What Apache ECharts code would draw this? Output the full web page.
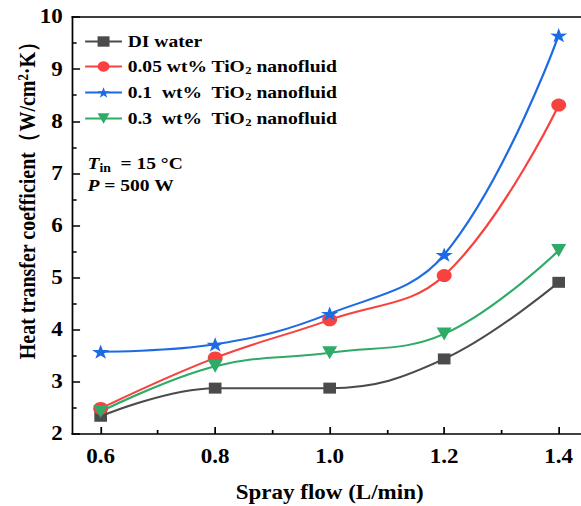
<!DOCTYPE html>
<html>
<head>
<meta charset="utf-8">
<script src="https://cdn.jsdelivr.net/npm/echarts@6/dist/echarts.min.js"></script>
<style>
  html, body { margin: 0; padding: 0; background: #fff; overflow: hidden; }
  /* the figure is laid out at 505 px wide and widened to fill the 581 px page */
  #chart { width: 505px; height: 506px; transform: scaleX(1.1505); transform-origin: 0 0; }
</style>
</head>
<body>
<div id="chart"></div>
<script>
// Spray flow rates (L/min)
const sprayFlow = [0.6, 0.8, 1.0, 1.2, 1.4];
// Heat transfer coefficient (W/cm²·K) per fluid
const diWater   = [2.34, 2.88, 2.88, 3.44, 4.91];
const tio2_005  = [2.49, 3.46, 4.19, 5.04, 8.31];
const tio2_01   = [3.58, 3.72, 4.31, 5.44, 9.65];
const tio2_03   = [2.43, 3.30, 3.56, 3.92, 5.52];
const xMajorTicks = [0.6, 0.8, 1.0, 1.2, 1.4];
const xMinorTicks = [0.7, 0.9, 1.1, 1.3];

const seriesNames = [
  'DI water',
  '0.05 wt% TiO{sub|2} nanofluid',
  '0.1  wt%  TiO{sub|2} nanofluid',
  '0.3  wt%  TiO{sub|2} nanofluid'
];
const colors = ['#4b4b4b', '#f8423f', '#1d6be3', '#2eab66'];
const starPath = 'path://M50,0 L61.8,35.1 L97.6,34.5 L68.8,56.7 L79.4,90.5 L50,70 L20.6,90.5 L31.2,56.7 L2.4,34.5 L38.2,35.1 Z';

const serif = '"Liberation Serif", "Times New Roman", serif';
const pair = arr => sprayFlow.map((x, i) => [x, arr[i]]);

function lineSeries(name, data, color, symbol, size, extra) {
  return Object.assign({
    name: name,
    type: 'line',
    data: pair(data),
    smooth: 0.4,
    symbol: symbol,
    symbolSize: size,
    symbolKeepAspect: true,
    lineStyle: { color: color, width: 2 },
    itemStyle: { color: color },
    xAxisIndex: 0,
    yAxisIndex: 0
  }, extra || {});
}

const chart = echarts.init(document.getElementById('chart'), null, { renderer: 'svg' });

const axisCommon = {
  axisLine: { show: true, lineStyle: { color: '#000', width: 1.5 } },
  splitLine: { show: false }
};

chart.setOption({
  animation: false,
  backgroundColor: '#fff',
  grid: { left: 62.6, top: 17, right: -5.5, bottom: 72, outerBoundsMode: 'none', containLabel: false },
  legend: {
    left: 68,
    top: 28,
    orient: 'vertical',
    itemGap: 8,
    itemWidth: 32,
    itemHeight: 13,
    data: seriesNames,
    textStyle: {
      fontFamily: serif, fontWeight: 'bold', fontSize: 17, color: '#000',
      rich: {
        sub: { fontFamily: serif, fontWeight: 'bold', fontSize: 11, color: '#000', verticalAlign: 'bottom', padding: [8, 0, 0, 0] }
      }
    }
  },
  xAxis: [
    Object.assign({}, axisCommon, {
      type: 'value',
      position: 'bottom',
      min: 0.55,
      max: 1.45,
      name: 'Spray flow (L/min)',
      nameLocation: 'middle',
      nameGap: 49,
      nameTextStyle: { fontFamily: serif, fontWeight: 'bold', fontSize: 20, color: '#000' },
      axisTick: { show: true, inside: true, length: 7, customValues: xMajorTicks, lineStyle: { color: '#000', width: 1.5 } },
      axisLabel: {
        customValues: xMajorTicks,
        margin: 13,
        fontFamily: serif, fontWeight: 'bold', fontSize: 20, color: '#000',
        formatter: v => v.toFixed(1)
      }
    }),
    Object.assign({}, axisCommon, {
      type: 'value',
      position: 'bottom',
      min: 0.55,
      max: 1.45,
      axisLine: { show: false },
      axisTick: { show: true, inside: true, length: 4, customValues: xMinorTicks, lineStyle: { color: '#000', width: 1.5 } },
      axisLabel: { show: false, customValues: xMinorTicks }
    }),
    Object.assign({}, axisCommon, {
      type: 'value',
      position: 'top',
      min: 0.55,
      max: 1.45,
      axisTick: { show: false },
      axisLabel: { show: false }
    })
  ],
  yAxis: [
    Object.assign({}, axisCommon, {
      type: 'value',
      min: 2,
      max: 10,
      interval: 1,
      name: 'Heat transfer coefficient（W/cm{sup|2}·K）',
      nameLocation: 'middle',
      nameGap: 28,
      nameMoveOverlap: false,
      nameTextStyle: {
        fontFamily: serif, fontWeight: 'bold', fontSize: 20, color: '#000',
        padding: [0, 0, 0, 60],
        rich: {
          sup: { fontFamily: serif, fontWeight: 'bold', fontSize: 13, color: '#000', verticalAlign: 'top', padding: [0, 0, 8, 0] }
        }
      },
      axisTick: { show: true, inside: true, length: 7, lineStyle: { color: '#000', width: 1.5 } },
      minorTick: { show: true, splitNumber: 2, length: 4, lineStyle: { color: '#000', width: 1.5 } },
      axisLabel: { margin: 8, fontFamily: serif, fontWeight: 'bold', fontSize: 20, color: '#000' }
    })
  ],
  graphic: [
    {
      type: 'text',
      left: 76,
      top: 155,
      style: {
        text: '{it|T}{sub|in} = 15 °C',
        font: 'bold 17px ' + serif,
        fill: '#000',
        rich: {
          it: { fontFamily: serif, fontWeight: 'bold', fontStyle: 'italic', fontSize: 17, fill: '#000' },
          sub: { fontFamily: serif, fontWeight: 'bold', fontSize: 12, fill: '#000', verticalAlign: 'bottom', padding: [8, 4, 0, 0] }
        }
      }
    },
    {
      type: 'text',
      left: 76,
      top: 177,
      style: {
        text: '{it|P} = 500 W',
        font: 'bold 17px ' + serif,
        fill: '#000',
        rich: {
          it: { fontFamily: serif, fontWeight: 'bold', fontStyle: 'italic', fontSize: 17, fill: '#000' }
        }
      }
    }
  ],
  series: [
    lineSeries(seriesNames[0], diWater, colors[0], 'rect', 11),
    lineSeries(seriesNames[1], tio2_005, colors[1], 'circle', 13),
    lineSeries(seriesNames[2], tio2_01, colors[2], starPath, 15),
    lineSeries(seriesNames[3], tio2_03, colors[3], 'triangle', 13, { symbolRotate: 180 })
  ]
});
</script>
</body>
</html>
